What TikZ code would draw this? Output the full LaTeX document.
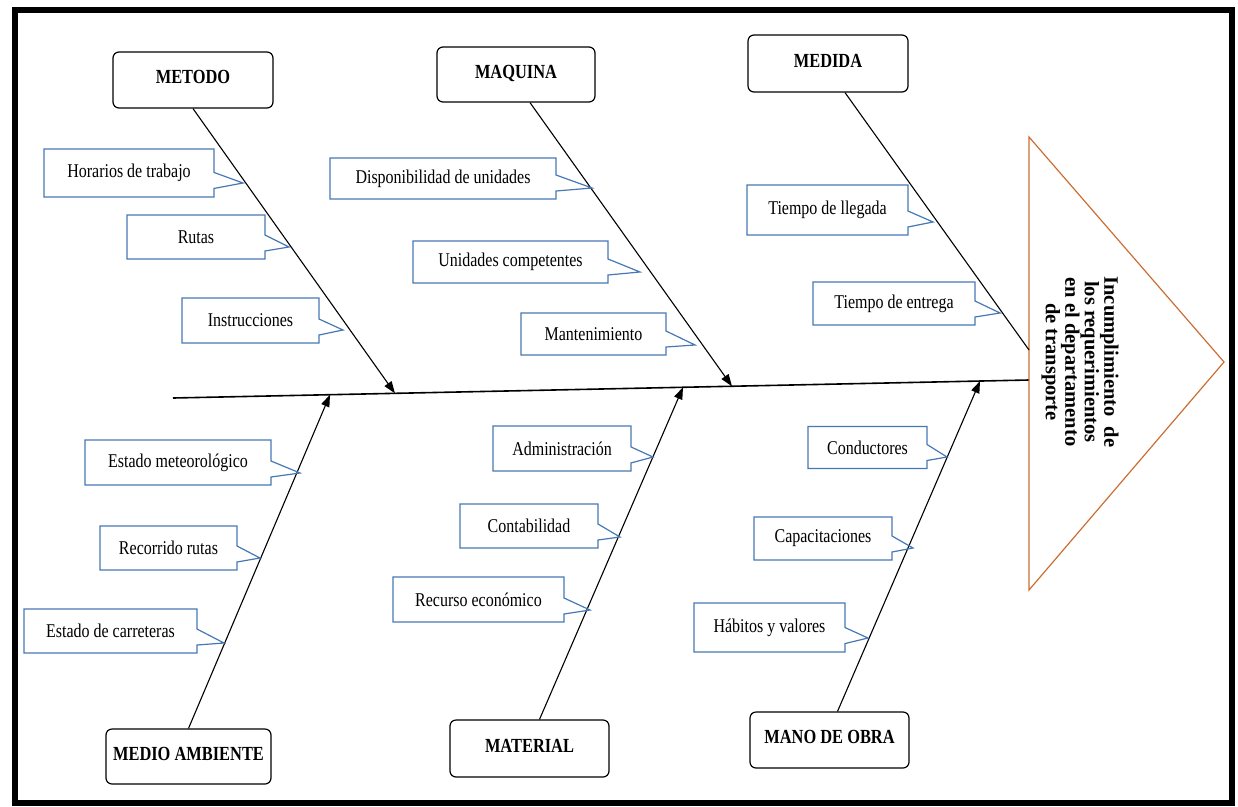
\documentclass[tikz,border=0pt]{standalone}
\usepackage{fontspec}
\setmainfont{Liberation Serif}[FakeStretch=0.82]
\newfontfamily\headfont{Liberation Serif}
\usetikzlibrary{shapes.callouts,arrows.meta}
\definecolor{causeblue}{RGB}{70,120,180}
\definecolor{headorange}{RGB}{204,110,50}

\begin{document}
\begin{tikzpicture}[
        x=1pt, y=-1pt,
        every node/.style={font=\fontsize{19.5}{22}\selectfont},
        category/.style={draw, rounded corners=6pt, line width=1.2pt, inner sep=0pt, text depth=6pt,
            font=\fontsize{20}{22}\selectfont\bfseries},
        cause/.style={rectangle callout, draw=causeblue, line width=1.2pt, inner sep=0pt,
            callout pointer width=16pt},
        bone/.style={line width=1.1pt, -{Triangle[length=12pt,width=8.5pt]}}
    ]
        \useasboundingbox (0,0) rectangle (1238,806);
        \draw[line width=6pt] (15,9.5) rectangle (1232,803);

        % spine and head
        \coordinate (tail) at (173,398);
        \coordinate (head) at (1029,380);
        \coordinate (medend) at (1029,350);
        \draw[line width=1.6pt] (tail) -- (head);
        \path (tail) -- (head)
            coordinate[pos=0.2593] (j1)
            coordinate[pos=0.1834] (j2)
            coordinate[pos=0.653] (j3)
            coordinate[pos=0.5958] (j4)
            coordinate[pos=0.9428] (j5);
        \draw[headorange, line width=1.2pt] (1029,137) -- (1224,362) -- (1029,590) -- cycle;
        \node[rotate=-90, align=center, font=\headfont\fontsize{20.5}{19.5}\selectfont\bfseries] (effect) at (1080,362)
            {Incumplimiento\enspace de\\los requerimientos\\en el departamento\\de transporte};

        % categories
        \node[category, minimum width=160pt, minimum height=56pt] (met) at (193,80) {METODO};
        \node[category, minimum width=158pt, minimum height=55pt] (maq) at (516,74.5) {MAQUINA};
        \node[category, minimum width=160pt, minimum height=57pt] (med) at (828,63.5) {MEDIDA};
        \node[category, minimum width=165pt, minimum height=55pt] (amb) at (188.5,756.5) {MEDIO AMBIENTE};
        \node[category, minimum width=159pt, minimum height=57pt] (mat) at (529.5,748.5) {MATERIAL};
        \node[category, minimum width=159pt, minimum height=56pt] (obr) at (829.5,740) {MANO DE OBRA};

        % bones
        \draw[bone] (met.south) -- (j1);
        \draw[bone] ([xshift=14pt]maq.south) -- (j3);
        \draw[line width=1.1pt] ([xshift=17pt]med.south) -- (medend);
        \draw[bone] (amb.north) -- (j2);
        \draw[bone] ([xshift=10pt]mat.north) -- (j4);
        \draw[bone] ([xshift=8pt]obr.north) -- (j5);

        % causes
        \node[cause, minimum width=170pt, minimum height=48pt, callout absolute pointer={(243,183)}] (hor) at (129,173) {Horarios de trabajo};
        \node[cause, minimum width=138pt, minimum height=44pt, callout absolute pointer={(289,247)}] (rut) at (196,237) {Rutas};
        \node[cause, minimum width=137pt, minimum height=45pt, callout absolute pointer={(343,330)}] (ins) at (250.5,320.5) {Instrucciones};
        \node[cause, minimum width=226pt, minimum height=41pt, callout absolute pointer={(592,188)}] (dis) at (443,178.5) {Disponibilidad de unidades};
        \node[cause, minimum width=195pt, minimum height=42pt, callout absolute pointer={(640,272)}] (uni) at (510.5,262) {Unidades competentes};
        \node[cause, minimum width=145pt, minimum height=42pt, callout absolute pointer={(695,345)}] (mant) at (593.5,334) {Mantenimiento};
        \node[cause, minimum width=161pt, minimum height=50pt, callout absolute pointer={(933,222)}] (lle) at (827.5,210) {Tiempo de llegada};
        \node[cause, minimum width=162pt, minimum height=43pt, callout absolute pointer={(1000,313)}] (ent) at (894,303.5) {Tiempo de entrega};
        \node[cause, minimum width=186pt, minimum height=45pt, callout absolute pointer={(300,473)}] (clima) at (178,462.5) {Estado meteorológico};
        \node[cause, minimum width=137pt, minimum height=44pt, callout absolute pointer={(260,558)}] (rec) at (168.5,548) {Recorrido rutas};
        \node[cause, minimum width=173pt, minimum height=44pt, callout absolute pointer={(224,643)}] (car) at (110.5,631) {Estado de carreteras};
        \node[cause, minimum width=138pt, minimum height=45pt, callout absolute pointer={(653,457)}] (adm) at (562,448.5) {Administración};
        \node[cause, minimum width=138pt, minimum height=44pt, callout absolute pointer={(620,537)}] (cont) at (529,526) {Contabilidad};
        \node[cause, minimum width=171pt, minimum height=45pt, callout absolute pointer={(590,610)}] (rcs) at (478.5,599.5) {Recurso económico};
        \node[cause, minimum width=119pt, minimum height=42pt, callout absolute pointer={(947,457)}] (cond) at (867.5,447.5) {Conductores};
        \node[cause, minimum width=138pt, minimum height=43pt, callout absolute pointer={(913,548)}] (cap) at (823,538.5) {Capacitaciones};
        \node[cause, minimum width=151pt, minimum height=49pt, callout absolute pointer={(868,638)}] (hab) at (769.5,627.5) {Hábitos y valores};
    \end{tikzpicture}
\end{document}
